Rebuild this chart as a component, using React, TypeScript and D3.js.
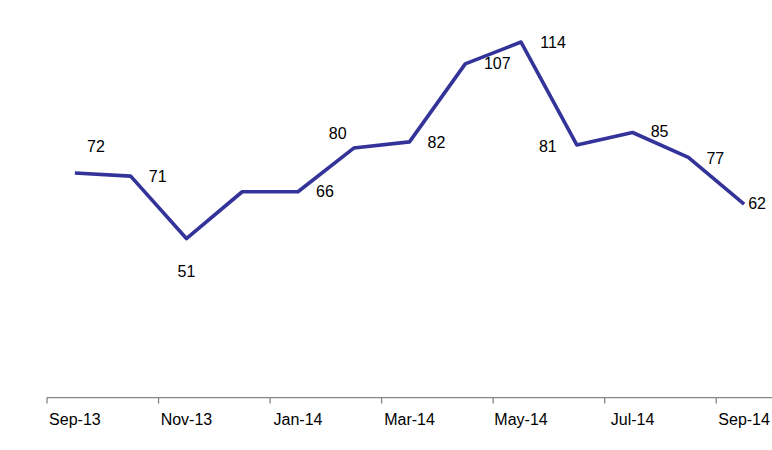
import React from "react";
import * as d3 from "d3";

const months = ["Sep-13","Oct-13","Nov-13","Dec-13","Jan-14","Feb-14","Mar-14","Apr-14","May-14","Jun-14","Jul-14","Aug-14","Sep-14"];
const values = [72, 71, 51, 66, 66, 80, 82, 107, 114, 81, 85, 77, 62];
const showLabel = [true, true, true, false, true, true, true, true, true, true, true, true, true];
const tickMonths = ["Sep-13","Nov-13","Jan-14","Mar-14","May-14","Jul-14","Sep-14"];
// label placement offsets (center x, baseline y) relative to point
const labelDx = [21, 27, 0, 0, 27, -16, 27, 32, 32, -29, 27, 27, 13];
const labelDy = [-21, 6, 38, 0, 5.5, -9, 6, 5.5, 6, 7, 5, 7, 5];

const W = 772, H = 450;
const left = 47, right = 772, axisY = 397.6;

export default function App() {
  const x = d3.scaleBand<string>().domain(months).range([left, right]).padding(0);
  const y = d3.scaleLinear().domain([0, 120]).range([axisY, axisY - 120 * 3.119]);
  const cx = (m: string) => (x(m) as number) + x.bandwidth() / 2;
  const line = d3.line<number>()
    .x((_, i) => cx(months[i]))
    .y((v) => y(v));
  const font = "'Liberation Sans', Arial, sans-serif";
  return (
    <svg width={W} height={H} style={{ position: "absolute", left: 0, top: 0, background: "#fff" }} fontFamily={font}>
      <line x1={left} x2={right} y1={axisY} y2={axisY} stroke="#868686" strokeWidth={1.3} />
      {tickMonths.map((m) => (
        <g key={m}>
          <line x1={x(m)} x2={x(m)} y1={axisY} y2={axisY + 6} stroke="#868686" strokeWidth={1.3} />
          <text x={cx(m)} y={425} textAnchor="middle" fontSize={16} fill="#000">{m}</text>
        </g>
      ))}
      <path d={line(values) || ""} fill="none" stroke="#333399" strokeWidth={3.6} strokeLinejoin="round" />
      {values.map((v, i) =>
        showLabel[i] ? (
          <text key={i} x={cx(months[i]) + labelDx[i]} y={y(v) + labelDy[i]} textAnchor="middle" fontSize={16} fill="#000">
            {v}
          </text>
        ) : null
      )}
    </svg>
  );
}
